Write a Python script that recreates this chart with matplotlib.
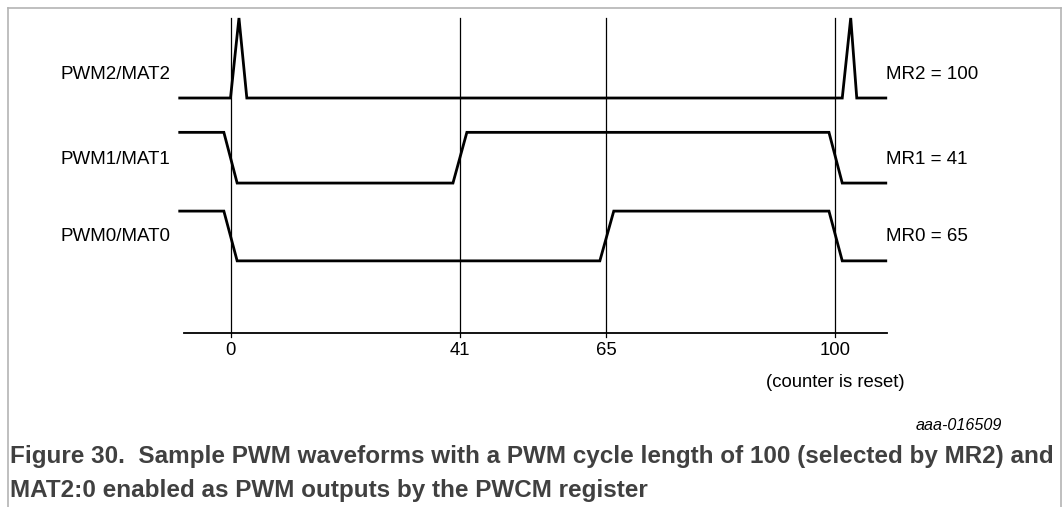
import matplotlib.pyplot as plt
from matplotlib.lines import Line2D

plt.rcParams['font.family'] = ['Liberation Sans', 'DejaVu Sans']

# counter values marked on the time axis and their (schematic) positions
tick_labels = ['0', '41', '65', '100']
tick_pos = [0, 38.0, 62.2, 100]

# waveforms: time points (schematic counter units) and logic levels
pwm2_t = [-8.4, 0.0, 1.4, 2.7, 101.2, 102.6, 103.6, 108.4]
pwm2_v = [0, 0, 1, 0, 0, 1, 0, 0]
pwm1_t = [-8.4, -1.1, 1.1, 36.8, 39.1, 99.0, 101.2, 108.4]
pwm1_v = [1, 1, 0, 0, 1, 1, 0, 0]
pwm0_t = [-8.4, -1.1, 1.1, 61.1, 63.4, 99.0, 101.2, 108.4]
pwm0_v = [1, 1, 0, 0, 1, 1, 0, 0]

signal_names = ['PWM2/MAT2', 'PWM1/MAT1', 'PWM0/MAT0']
match_names = ['MR2 = 100', 'MR1 = 41', 'MR0 = 65']

# row layout: (low level, amplitude)
rows = [(7.46, 2.54), (4.76, 1.61), (2.29, 1.58)]
label_y = [8.22, 5.52, 3.05]

fig = plt.figure(figsize=(10.62, 5.07), dpi=100)
ax = fig.add_axes([170.05 / 1062, (507 - 333) / 507, 725.4 / 1062, 315 / 507])
ax.set_xlim(-10, 110)
ax.set_ylim(0, 10)
ax.axis('off')

# time axis
ax.plot([-7.7, 108.6], [0, 0], color='black', lw=1.3, clip_on=False)
for p, lab in zip(tick_pos, tick_labels):
    ax.plot([p, p], [-0.13, 10], color='black', lw=0.9, clip_on=False)
    ax.text(p, -0.54, lab, ha='center', va='center', fontsize=13.3)
ax.text(100, -1.56, '(counter is reset)', ha='center', va='center', fontsize=13.3)

waves = [(pwm2_t, pwm2_v), (pwm1_t, pwm1_v), (pwm0_t, pwm0_v)]
for (t, v), (low, amp), name, mr, ly in zip(waves, rows, signal_names, match_names, label_y):
    ax.plot(t, [low + amp * s for s in v], color='black', lw=2.0,
            solid_joinstyle='miter', clip_on=False)
    ax.text(-28.2, ly, name, ha='left', va='center', fontsize=13.5, clip_on=False)
    ax.text(108.5, ly, mr, ha='left', va='center', fontsize=13.5, clip_on=False)

# page frame
W, H = 1062, 507
border = '#b4b4b4'
fig.add_artist(Line2D([7.5 / W, 7.5 / W], [0, 1 - 7.5 / H], color=border, lw=1.2))
fig.add_artist(Line2D([7.5 / W, 1061 / W], [1 - 7.5 / H, 1 - 7.5 / H], color=border, lw=1.2))
fig.add_artist(Line2D([1061 / W, 1061 / W], [0, 1 - 7.5 / H], color=border, lw=1.2))

fig.text(1002 / W, 1 - 425 / H, 'aaa-016509', ha='right', va='center',
         fontsize=11.6, style='italic')

cap_color = '#404040'
fig.text(10 / W, 1 - 457 / H,
         'Figure 30.  Sample PWM waveforms with a PWM cycle length of 100 (selected by MR2) and',
         ha='left', va='center', fontsize=17.5, fontweight='bold', color=cap_color)
fig.text(10 / W, 1 - 490 / H,
         'MAT2:0 enabled as PWM outputs by the PWCM register',
         ha='left', va='center', fontsize=17.5, fontweight='bold', color=cap_color)

fig.savefig('out.png', dpi=100)
